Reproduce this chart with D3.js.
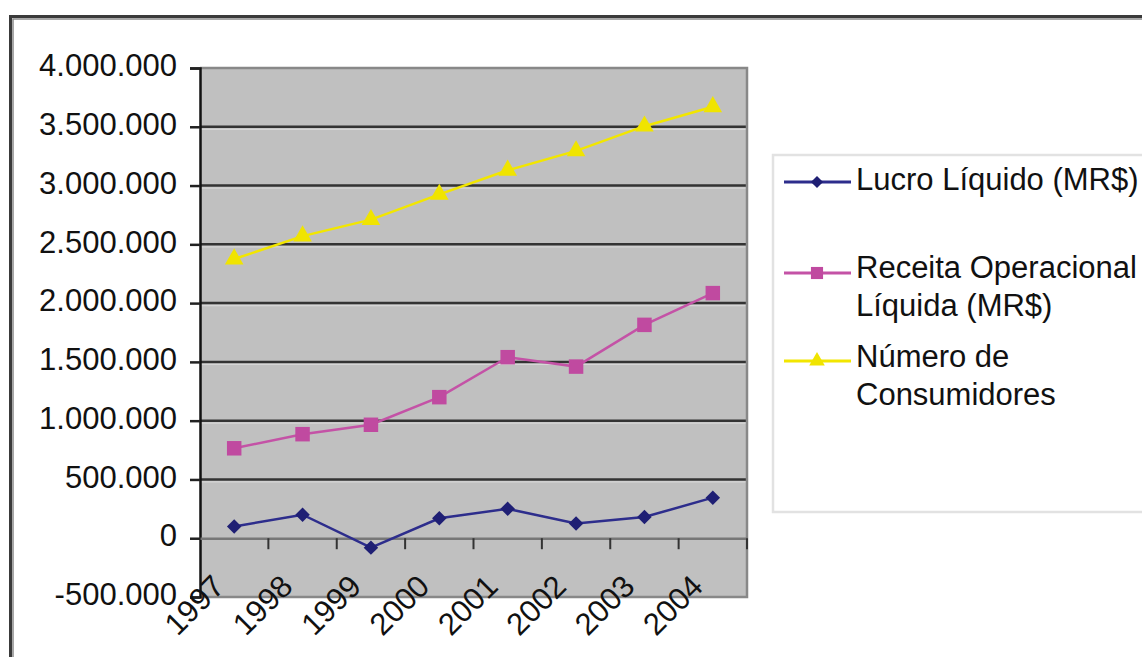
<!DOCTYPE html>
<html>
<head>
<meta charset="utf-8">
<script src="https://cdn.jsdelivr.net/npm/d3@7"></script>
<style>
  body { margin: 0; background: #fff; }
  svg { display: block; font-family: "Liberation Sans", Arial, sans-serif; }
</style>
</head>
<body>
<svg id="svg"></svg>
<script>
const years = ['1997', '1998', '1999', '2000', '2001', '2002', '2003', '2004'];
const lucro = [100000, 200000, -80000, 170000, 250000, 125000, 180000, 345000];
const receita = [765000, 885000, 965000, 1200000, 1540000, 1460000, 1815000, 2085000];
const consumidores = [2375000, 2570000, 2710000, 2925000, 3130000, 3295000, 3505000, 3670000];
const yTicks = [-500000, 0, 500000, 1000000, 1500000, 2000000, 2500000, 3000000, 3500000, 4000000];
const seriesNames = [['Lucro Líquido (MR$)'], ['Receita Operacional', 'Líquida (MR$)'], ['Número de', 'Consumidores']];

const width = 1142, height = 657;
const plot = {left: 200, right: 747, top: 68, bottom: 597};

// pt-BR style thousands with a plain hyphen for negatives
const locale = d3.formatLocale({decimal: ',', thousands: '.', grouping: [3], currency: ['R$', ''], minus: '-'});
const fmt = locale.format(',');

const svg = d3.select('#svg').attr('width', width).attr('height', height);

// outer chart frame (cut off at right/bottom like the reference)
svg.append('rect')
    .attr('x', 10.5).attr('y', 16.5)
    .attr('width', 1300).attr('height', 800)
    .attr('fill', 'none').attr('stroke', '#3a3a3a').attr('stroke-width', 3);
svg.append('rect')
    .attr('x', 13).attr('y', 19)
    .attr('width', 1300).attr('height', 800)
    .attr('fill', 'none').attr('stroke', '#8a8a8a').attr('stroke-width', 1.5);

const x = d3.scaleBand().domain(years).range([plot.left, plot.right]).padding(0);
const y = d3.scaleLinear().domain([-500000, 4000000]).range([plot.bottom, plot.top]);

// plot background
svg.append('rect')
    .attr('x', plot.left).attr('y', plot.top)
    .attr('width', plot.right - plot.left).attr('height', plot.bottom - plot.top)
    .attr('fill', '#c0c0c0');

// gridlines
const grid = svg.append('g');
yTicks.filter(t => t > 0 && t < 4000000).forEach(t => {
  grid.append('line')
      .attr('x1', plot.left).attr('x2', plot.right)
      .attr('y1', y(t)).attr('y2', y(t))
      .attr('stroke', '#333').attr('stroke-width', 2.5);
  grid.append('line')
      .attr('x1', plot.left).attr('x2', plot.right)
      .attr('y1', y(t) + 2.5).attr('y2', y(t) + 2.5)
      .attr('stroke', '#d6d6d6').attr('stroke-width', 1.2);
});

// plot border top / right / bottom
svg.append('path')
    .attr('d', `M${plot.left},${plot.top}H${plot.right}V${plot.bottom}H${plot.left}`)
    .attr('fill', 'none').attr('stroke', '#888').attr('stroke-width', 2.5);

// y axis
const yAxis = svg.append('g')
    .attr('transform', `translate(${plot.left},0)`)
    .call(d3.axisLeft(y).tickValues(yTicks).tickFormat(fmt).tickSize(10).tickPadding(13));
yAxis.select('.domain').attr('stroke', '#111').attr('stroke-width', 2.5);
yAxis.selectAll('.tick line').attr('stroke', '#222').attr('stroke-width', 2.5);
yAxis.selectAll('.tick text')
    .attr('font-size', 31).attr('fill', '#111')
    .attr('font-family', '"Liberation Sans", Arial, sans-serif')
    .attr('dy', '0.25em');

// x axis at zero
const xAxis = svg.append('g')
    .attr('transform', `translate(0,${y(0)})`)
    .call(d3.axisBottom(x).tickSize(0).tickFormat(''));
xAxis.select('.domain').attr('stroke', '#777').attr('stroke-width', 2.5);
xAxis.selectAll('.tick').remove();
xAxis.selectAll('.sep')
    .data(years.map(yr => x(yr)).concat([plot.right]).slice(1))
    .join('line')
    .attr('x1', d => d).attr('x2', d => d)
    .attr('y1', 0).attr('y2', 11)
    .attr('stroke', '#333').attr('stroke-width', 2);

svg.append('g')
    .selectAll('text')
    .data(years)
    .join('text')
    .attr('transform', d => `translate(${x(d) + x.bandwidth() / 2 - 8},${y(0) + 50}) rotate(-45)`)
    .attr('text-anchor', 'end')
    .attr('font-size', 31).attr('fill', '#111')
    .text(d => d);

// series
const series = [
  {values: lucro, color: '#2d2d8c', marker: '#1f1f74', symbol: d3.symbolSquare, size: 105, rot: 45},
  {values: receita, color: '#c452a6', marker: '#c04aa0', symbol: d3.symbolSquare, size: 210, rot: 0},
  {values: consumidores, color: '#f2e600', marker: '#f0e400', symbol: d3.symbolTriangle, size: 150, rot: 0}
];

const cx = i => x(years[i]) + x.bandwidth() / 2;
const line = d3.line().x((d, i) => cx(i)).y(d => y(d));

series.forEach(s => {
  svg.append('path')
      .datum(s.values)
      .attr('d', line)
      .attr('fill', 'none')
      .attr('stroke', s.color)
      .attr('stroke-width', 2.5);
  svg.append('g')
      .selectAll('path')
      .data(s.values)
      .join('path')
      .attr('transform', (d, i) => `translate(${cx(i)},${y(d)}) rotate(${s.rot})`)
      .attr('d', d3.symbol().type(s.symbol).size(s.size))
      .attr('fill', s.marker);
});

// legend
const legend = svg.append('g');
legend.append('rect')
    .attr('x', 773).attr('y', 155)
    .attr('width', 500).attr('height', 357)
    .attr('fill', '#fff').attr('stroke', '#e2e2e2').attr('stroke-width', 2.5);

const legendY = [182, 273, 361];
const textY = [190, 278, 367];
series.forEach((s, i) => {
  const g = legend.append('g');
  g.append('line')
      .attr('x1', 784).attr('x2', 851)
      .attr('y1', legendY[i]).attr('y2', legendY[i])
      .attr('stroke', s.color).attr('stroke-width', 3);
  g.append('path')
      .attr('transform', `translate(817,${legendY[i]}) rotate(${s.rot})`)
      .attr('d', d3.symbol().type(s.symbol).size(s.size * 0.7))
      .attr('fill', s.marker);
  const t = g.append('text')
      .attr('x', 856).attr('y', textY[i])
      .attr('font-size', 31).attr('fill', '#111');
  seriesNames[i].forEach((ln, j) => {
    t.append('tspan').attr('x', 856).attr('dy', j === 0 ? 0 : 38).text(ln);
  });
});
</script>
</body>
</html>
